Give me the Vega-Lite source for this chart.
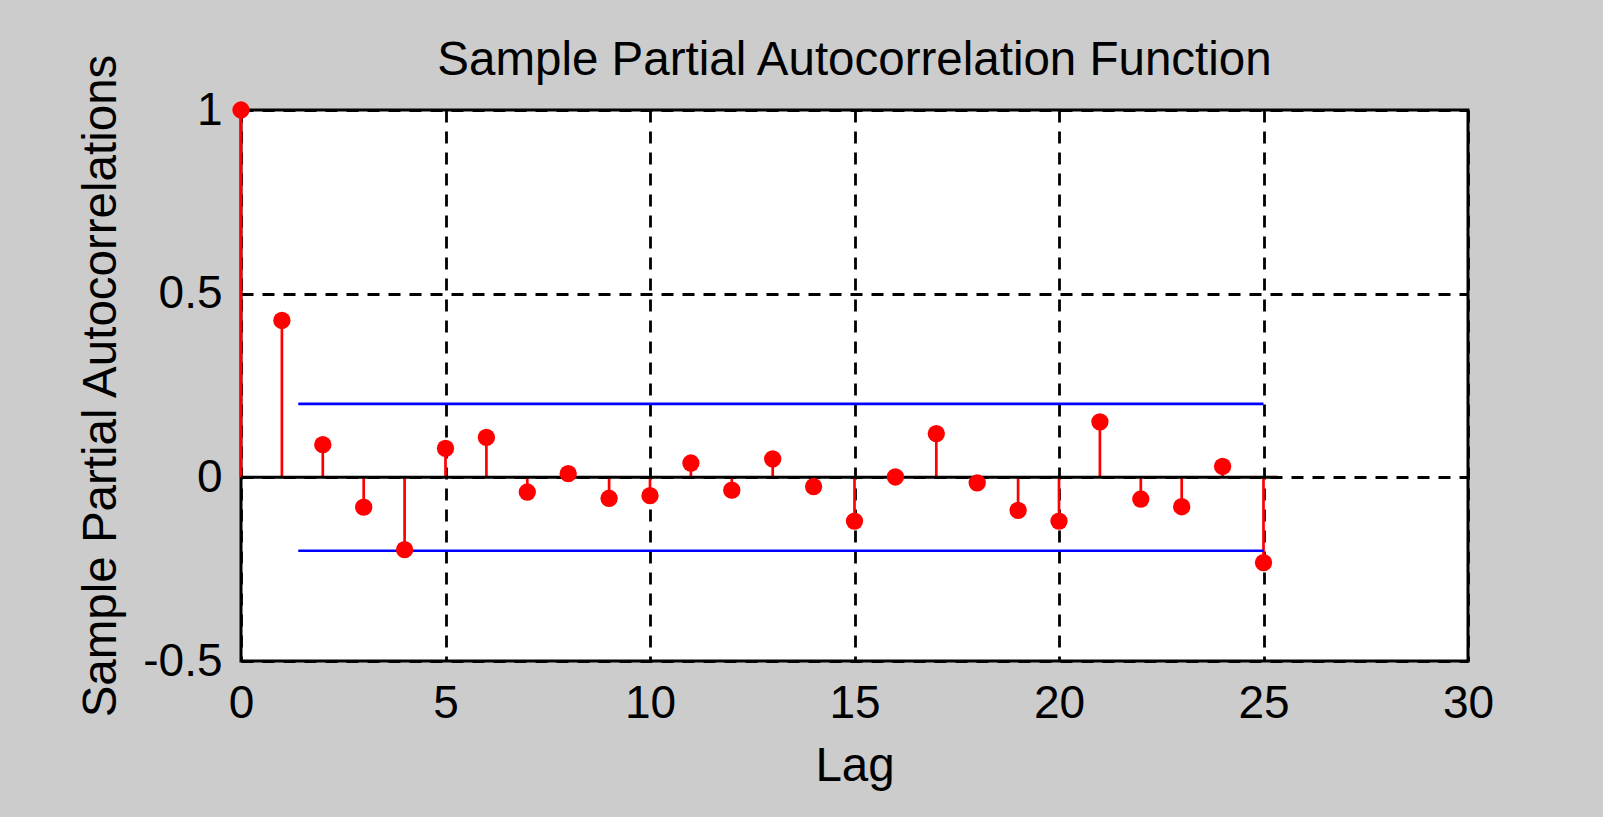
{
  "$schema": "https://vega.github.io/schema/vega-lite/v6.json",
  "width": 1227,
  "height": 551,
  "autosize": {"type": "none"},
  "padding": {"left": 241, "top": 110, "right": 135, "bottom": 156},
  "background": "#cccccc",
  "title": {
    "text": "Sample Partial Autocorrelation Function",
    "font": "Liberation Sans",
    "fontSize": 47.5,
    "fontWeight": "normal",
    "color": "#000000",
    "anchor": "middle",
    "frame": "group",
    "offset": -32
  },
  "config": {
    "view": {"fill": "#ffffff", "stroke": "#000000", "strokeWidth": 3},
    "axis": {
      "labelFont": "Liberation Sans",
      "titleFont": "Liberation Sans",
      "labelFontSize": 46,
      "titleFontSize": 47.5,
      "titleFontWeight": "normal",
      "labelColor": "#000000",
      "titleColor": "#000000",
      "grid": true,
      "gridColor": "#000000",
      "gridOpacity": 1,
      "gridWidth": 2.8,
      "gridDash": [12, 9],
      "domain": false,
      "ticks": false
    }
  },
  "datasets": {
    "pacf": [
      {"lag": 0, "value": 1.0},
      {"lag": 1, "value": 0.427},
      {"lag": 2, "value": 0.089},
      {"lag": 3, "value": -0.081},
      {"lag": 4, "value": -0.197},
      {"lag": 5, "value": 0.079},
      {"lag": 6, "value": 0.109},
      {"lag": 7, "value": -0.04},
      {"lag": 8, "value": 0.01},
      {"lag": 9, "value": -0.057},
      {"lag": 10, "value": -0.05},
      {"lag": 11, "value": 0.039},
      {"lag": 12, "value": -0.035},
      {"lag": 13, "value": 0.05},
      {"lag": 14, "value": -0.025},
      {"lag": 15, "value": -0.119},
      {"lag": 16, "value": 0.001},
      {"lag": 17, "value": 0.119},
      {"lag": 18, "value": -0.015},
      {"lag": 19, "value": -0.09},
      {"lag": 20, "value": -0.119},
      {"lag": 21, "value": 0.151},
      {"lag": 22, "value": -0.059},
      {"lag": 23, "value": -0.08},
      {"lag": 24, "value": 0.03},
      {"lag": 25, "value": -0.232}
    ],
    "baseline": [
      {"lag": 0, "value": 0},
      {"lag": 25.35, "value": 0}
    ],
    "bounds": [
      {"lag": 1.4, "value": 0.2, "side": "upper"},
      {"lag": 25, "value": 0.2, "side": "upper"},
      {"lag": 1.4, "value": -0.2, "side": "lower"},
      {"lag": 25, "value": -0.2, "side": "lower"}
    ]
  },
  "layer": [
    {
      "data": {"name": "pacf"},
      "mark": {"type": "rule", "color": "#ff0000", "strokeWidth": 2.7},
      "encoding": {
        "x": {
          "field": "lag",
          "type": "quantitative",
          "scale": {"domain": [0, 30], "nice": false, "zero": false},
          "axis": {
            "title": "Lag",
            "values": [0, 5, 10, 15, 20, 25, 30],
            "labelPadding": 20,
            "titlePadding": 16,
            "labelFlush": false
          }
        },
        "y": {
          "field": "value",
          "type": "quantitative",
          "scale": {"domain": [-0.5, 1], "nice": false, "zero": false},
          "axis": {
            "title": "Sample Partial Autocorrelations",
            "values": [-0.5, 0, 0.5, 1],
            "labelExpr": "replace(format(datum.value, '~g'), '\u2212', '-')",
            "labelPadding": 19,
            "titlePadding": 17,
            "labelFlush": false
          }
        },
        "y2": {"datum": 0}
      }
    },
    {
      "data": {"name": "baseline"},
      "mark": {"type": "line", "color": "#000000", "strokeWidth": 3},
      "encoding": {
        "x": {"field": "lag", "type": "quantitative"},
        "y": {"field": "value", "type": "quantitative"}
      }
    },
    {
      "data": {"name": "bounds"},
      "mark": {"type": "line", "color": "#0000ff", "strokeWidth": 2.6},
      "encoding": {
        "x": {"field": "lag", "type": "quantitative"},
        "y": {"field": "value", "type": "quantitative"},
        "detail": {"field": "side"}
      }
    },
    {
      "data": {"name": "pacf"},
      "mark": {"type": "point", "filled": true, "shape": "circle", "color": "#ff0000", "opacity": 1, "size": 300},
      "encoding": {
        "x": {"field": "lag", "type": "quantitative"},
        "y": {"field": "value", "type": "quantitative"}
      }
    }
  ]
}
